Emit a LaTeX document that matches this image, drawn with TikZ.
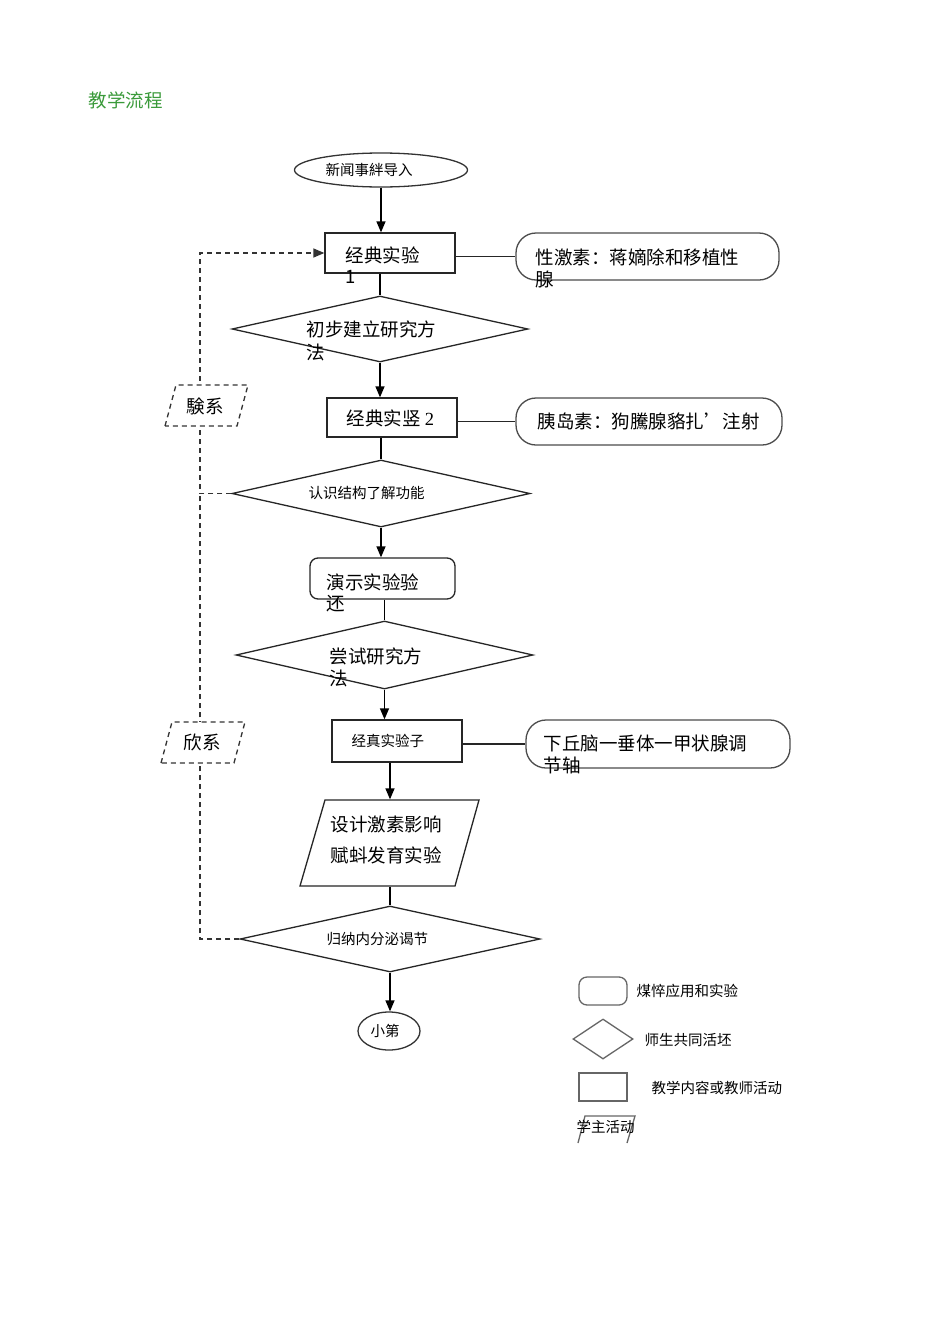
\documentclass[tikz,border=0pt]{standalone}
\usepackage{fontspec}
\setmainfont{Liberation Serif}
\newfontfamily\cjk{Noto Sans CJK SC}
\usetikzlibrary{shapes.geometric,arrows.meta}
\definecolor{titlegreen}{HTML}{3A9A3A}
\begin{document}
\begin{tikzpicture}[x=1pt,y=-1pt,line width=1.3pt,
  box/.style={draw=black!85,inner sep=0},
  sbox/.style={draw=black!70,rounded corners=20,inner sep=0},
  dia/.style={diamond,draw=black!85,inner sep=0},
  ell/.style={ellipse,draw=black!80,inner sep=0},
  arr/.style={-{Triangle[length=11,width=9]}},
  dsh/.style={dash pattern=on 5pt off 4pt,draw=black!80},
  serif/.style={font=\cjk\fontsize{18.5}{22}\selectfont,anchor=west,inner sep=0},
  sans/.style={font=\cjk\fontsize{14.5}{17}\selectfont,inner sep=0},
  legshape/.style={draw=black!60,line width=1.3pt},
]
\useasboundingbox (0,0) rectangle (950,1344);
\fill[white] (0,0) rectangle (950,1344);

% title
\node[font=\cjk\fontsize{18.5}{22}\selectfont,text=titlegreen,anchor=west,inner sep=0] (title) at (88,100) {教学流程};

% main flow shapes
\node[ell,minimum width=173,minimum height=34] (start) at (381,170) {};
\node[sans] (tstart) at (369,170) {新闻事絆导入};

\node[box,minimum width=130,minimum height=40] (b1) at (390,253) {};
\node[serif] (tb1) at (345,255) {经典实验};
\node[serif] (tb1b) at (345,277) {1};

\node[sbox,minimum width=263,minimum height=47] (sb1) at (647.5,256.5) {};
\node[serif] (tsb1) at (535,257) {性激素：蒋嫡除和移植性};
\node[serif] (tsb1b) at (535,279) {腺};

\node[dia,minimum width=296,minimum height=66] (d1) at (380,329) {};
\node[serif] (td1) at (306,329) {初步建立研究方};
\node[serif] (td1b) at (306,352) {法};

\node[box,minimum width=130,minimum height=39] (b2) at (392,417.5) {};
\node[serif] (tb2) at (346,418) {经典实竖 \rmfamily 2};

\node[sbox,minimum width=266,minimum height=47] (sb2) at (649,421.5) {};
\node[serif] (tsb2) at (537,421) {胰岛素：狗騰腺貉扎’注射};

\node[dia,minimum width=298,minimum height=67] (d2) at (381,493.5) {};
\node[sans,anchor=west] (td2) at (308,493) {认识结构了解功能};

\node[box,rounded corners=8,minimum width=145,minimum height=41] (r3) at (382.5,578.5) {};
\node[serif] (tr3) at (326,582) {演示实验验};
\node[serif] (tr3b) at (326,604) {还};

\node[dia,minimum width=297,minimum height=68] (d3) at (384.5,655) {};
\node[serif] (td3) at (329,656) {尝试研究方};
\node[serif] (td3b) at (329,678) {法};

\node[box,minimum width=130,minimum height=42] (b4) at (397,741) {};
\node[sans,anchor=west] (tb4) at (351,741) {经真实验子};

\node[sbox,minimum width=264,minimum height=48] (sb4) at (658,744) {};
\node[serif] (tsb4) at (543,743) {下丘脑一垂体一甲状腺调};
\node[serif] (tsb4b) at (543,765) {节轴};

\node[inner sep=0,minimum width=155,minimum height=86] (p) at (390,843) {};
\draw[draw=black!85] (300,886) -- (325,800) -- (479,800) -- (455,886) -- cycle;
\node[serif] (tp) at (330,824) {设计激素影响};
\node[serif] (tpb) at (330,855) {赋蚪发育实验};

\node[dia,minimum width=300,minimum height=66] (d4) at (390,939) {};
\node[sans,anchor=west] (td4) at (326,939) {归纳内分泌谒节};

\node[ell,minimum width=62,minimum height=38] (fin) at (389,1031) {};
\node[sans] (tfin) at (385,1031) {小第};

% connectors
\draw[arr] (start.south) -- (start.south |- b1.north);
\draw[draw=black!85] (b1.east |- sb1.west) -- (sb1.west);
\draw (d1.north |- b1.south) -- (d1.north);
\draw[arr] (d1.south) -- (d1.south |- b2.north);
\draw[draw=black!85] (b2.east |- sb2.west) -- (sb2.west);
\draw (d2.north |- b2.south) -- (d2.north);
\draw[arr] (d2.south) -- (d2.south |- r3.north);
\draw (d3.north |- r3.south) -- (d3.north);
\draw[arr] (d3.south) -- (d3.south |- b4.north);
\draw[draw=black!85] (b4.east |- sb4.west) -- (sb4.west);
\draw[arr] (p.north |- b4.south) -- (p.north);
\draw (p.south) -- (d4.north);
\draw[arr] (d4.south) -- (d4.south |- fin.north);

% dashed feedback loops
\coordinate (lx) at (200,0);
\draw[dsh,arr] (d2.west) -- (d2.west -| lx) |- (b1.west);
\draw[dsh] (d4.west) -- (d4.west -| lx) -- (lx |- d2.west);

\draw[dsh,fill=white] (165,426) -- (176,385) -- (248,385) -- (237,426) -- cycle;
\node[font=\cjk\fontsize{18.5}{22}\selectfont,inner sep=0] (tq1) at (205,406) {験系};
\draw[dsh,fill=white] (161,763) -- (172,722) -- (245,722) -- (234,763) -- cycle;
\node[font=\cjk\fontsize{18.5}{22}\selectfont,inner sep=0] (tq2) at (202,742) {欣系};

% legend
\node[legshape,rounded corners=8,minimum width=48,minimum height=28,inner sep=0] (l1) at (603,991) {};
\node[sans,anchor=west] (tl1) at (636,991) {煤悴应用和实验};
\node[diamond,legshape,minimum width=60,minimum height=40,inner sep=0] (l2) at (603,1039) {};
\node[sans,anchor=west] (tl2) at (644,1040) {师生共同活坯};
\node[legshape,minimum width=48,minimum height=28,inner sep=0] (l3) at (603,1087) {};
\node[sans,anchor=west] (tl3) at (651,1088) {教学内容或教师活动};
\draw[legshape] (578,1143) -- (585,1116) -- (635,1116) -- (627,1143);
\node[sans,anchor=west] (tl4) at (576,1127) {学主活动};
\end{tikzpicture}
\end{document}
